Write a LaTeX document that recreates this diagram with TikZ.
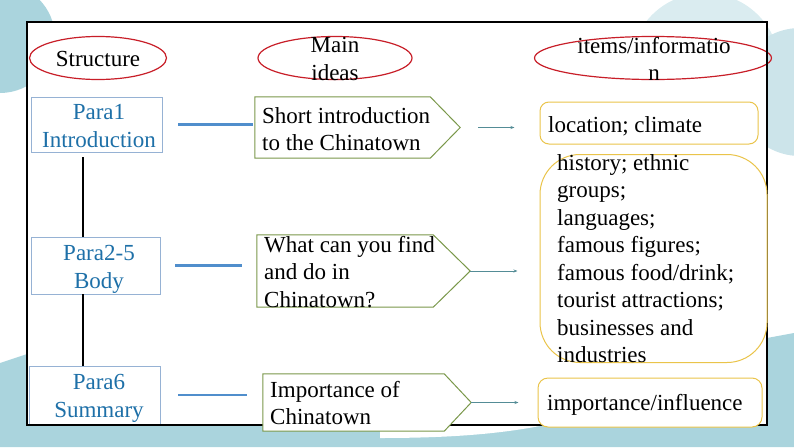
\documentclass[tikz,border=0pt]{standalone}
\usepackage{fontspec}
\setmainfont{Liberation Serif}
\newfontfamily\diagfont{Liberation Serif}
\usetikzlibrary{shapes.geometric,arrows.meta}

\definecolor{bgteal}{RGB}{170,212,221}
\definecolor{bglight}{RGB}{218,236,240}
\definecolor{bgmid}{RGB}{204,228,234}
\definecolor{headred}{RGB}{200,30,40}
\definecolor{paraline}{RGB}{150,178,212}
\definecolor{paratxt}{RGB}{30,112,168}
\definecolor{linkblue}{RGB}{80,142,204}
\definecolor{ideagreen}{RGB}{122,152,74}
\definecolor{itemgold}{RGB}{234,196,74}
\definecolor{pointgray}{RGB}{84,140,150}

\begin{document}
\begin{tikzpicture}
  [x=1pt, y=-1pt,
   every node/.style={font=\diagfont\fontsize{23}{27.5}\selectfont, inner sep=0pt},
   head/.style={ellipse, draw=headred, line width=1.2pt},
   parabox/.style={draw=paraline, line width=0.9pt},
   paratext/.style={text=paratxt, align=center},
   ideabox/.style={},
   ideaedge/.style={draw=ideagreen, fill=white, line width=1pt},
   itembox/.style={draw=itemgold, fill=white, line width=1pt},
   txt/.style={anchor=west, align=left},
   link/.style={draw=linkblue, line width=2.2pt},
   pointer/.style={draw=pointgray, line width=0.9pt, -{Stealth[length=4pt,width=3pt]}},
   spine/.style={draw=black, line width=2pt}]
  \useasboundingbox (0,0) rectangle (794,447);

  % background
  \begin{scope}
    \clip (0,0) rectangle (794,447);
    \fill[bglight] (705,68) circle (75);
    \fill[bgmid] (800,92) circle (64);
    \fill[bgteal] (0,38) circle (55);
    \fill[bgteal] (0,363) -- (60,343) -- (740,343) -- (794,333) -- (794,447) -- (0,447) -- cycle;
    \fill[white] (380,425) -- (380,438) .. controls (450,438) and (500,434) .. (545,425) -- cycle;
  \end{scope}
  \fill[white] (27,22) rectangle (767,425);

  % headings
  \node[head, minimum width=137pt, minimum height=43pt] (h1) at (98,58) {};
  \node at (98,59.4) {Structure};
  \node[head, minimum width=154pt, minimum height=43pt] (h2) at (335,58) {};
  \node[align=center] at (335,59) {Main\\ideas};
  \node[head, minimum width=237pt, minimum height=43pt] (h3) at (653,58) {};
  \node[align=center] at (654,59) {items/informatio\\n};

  % structure column
  \node[parabox, minimum width=131pt, minimum height=55pt] (s1) at (96.5,124.5) {};
  \node[paratext] at (99,126) {Para1\\Introduction};
  \node[parabox, minimum width=129pt, minimum height=57pt] (s2) at (95.5,265.5) {};
  \node[paratext] at (99,269.5) {Para2-5\\Body};
  \node[parabox, minimum width=131pt, minimum height=58pt] (s3) at (94.5,395) {};
  \node[paratext] at (99,398.5) {Para6\\Summary};

  \draw[line width=2pt] (27,22) rectangle (767,425);

  \coordinate (sp) at (83,0);
  \foreach \a/\b/\g in {s1/s2/5, s2/s3/0}
    \draw[spine, shorten <=\g pt] (sp |- \a.south) -- (sp |- \b.north);

  % main ideas
  \node[ideabox, minimum width=175pt, minimum height=61pt] (m1) at (342.5,127.5) {};
  \node[ideabox, minimum width=176pt, minimum height=72pt] (m2) at (345,271) {};
  \node[ideabox, minimum width=181pt, minimum height=57pt] (m3) at (353.5,402.5) {};
  \foreach \m/\tipx in {m1/30, m2/37, m3/27}
    \draw[ideaedge] (\m.north west) -- (\m.north east) -- ([xshift=\tipx pt]\m.east) coordinate (t\m)
      -- (\m.south east) -- (\m.south west) -- cycle;
  \node[txt] at (262,129) {Short introduction\\to the Chinatown};
  \node[txt] at (264,271.75) {What can you find\\and do in\\Chinatown?};
  \node[txt] at (270,403) {Importance of\\Chinatown};

  % items
  \node[itembox, minimum width=218pt, minimum height=42pt, rounded corners=9pt] (i1) at (649,123) {};
  \node[txt] at (548,126.5) {location; climate};
  \node[itembox, minimum width=227pt, minimum height=208pt, rounded corners=40pt] (i2) at (653.5,258.5) {};
  \node[txt] at (557,258.4) {history; ethnic\\groups;\\languages;\\famous figures;\\famous food/drink;\\tourist attractions;\\businesses and\\industries};
  \node[itembox, minimum width=224pt, minimum height=49pt, rounded corners=10pt] (i3) at (650,402.5) {};
  \node[txt] at (547,404.6) {importance/influence};

  \foreach \a/\b/\s/\e in {s1/m1/16/2, s2/m2/15/15, s3/m3/18/16}
    \draw[link, shorten <=\s pt, shorten >=\e pt] (\a.east) -- (\a.east -| \b.west);

  \foreach \m/\i/\s/\e in {m1/i1/18/25, m2/i2/0/22, m3/i3/0/19}
    \draw[pointer, shorten <=\s pt, shorten >=\e pt] (t\m) -- (t\m -| \i.west);

\end{tikzpicture}
\end{document}
